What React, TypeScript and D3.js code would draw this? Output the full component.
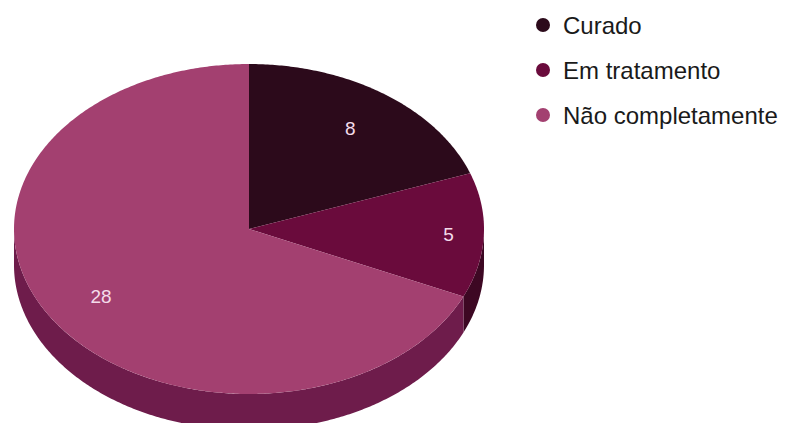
import React from "react";
import * as d3 from "d3";

const categories = ["Curado", "Em tratamento", "Não completamente"];
const values = [8, 5, 28];
const topColors = ["#2c0a1b", "#6a0b3c", "#a34070"];
const sideColors = ["#1c0611", "#3d0823", "#6e1c4b"];
const labelRadius = [0.75, 0.85, 0.75];

const W = 794;
const H = 423;
const cx = 249;
const cy = 229;
const rx = 235;
const ry = 165;
const depth = 36;

function pt(a: number, dy = 0): [number, number] {
  return [cx + rx * Math.sin(a), cy - ry * Math.cos(a) + dy];
}

function arcPoints(a0: number, a1: number, dy = 0): [number, number][] {
  const n = Math.max(2, Math.ceil(Math.abs(a1 - a0) / 0.01));
  const pts: [number, number][] = [];
  for (let i = 0; i <= n; i++) {
    const a = a0 + ((a1 - a0) * i) / n;
    pts.push(pt(a, dy));
  }
  return pts;
}

const line = d3.line<[number, number]>().x((d) => d[0]).y((d) => d[1]);

export default function App() {
  const pie = d3
    .pie<number>()
    .sort(null)
    .startAngle(0)
    .endAngle(2 * Math.PI)
    .value((d) => d);
  const arcs = pie(values);

  const sides = arcs.map((a, i) => {
    const s = Math.max(a.startAngle, Math.PI / 2);
    const e = Math.min(a.endAngle, (3 * Math.PI) / 2);
    if (e <= s) return null;
    const pts = [...arcPoints(s, e), ...arcPoints(e, s, depth)];
    return <path key={"s" + i} d={(line(pts) || "") + "Z"} fill={sideColors[i]} />;
  });

  const tops = arcs.map((a, i) => {
    const pts: [number, number][] = [[cx, cy], ...arcPoints(a.startAngle, a.endAngle)];
    return <path key={"t" + i} d={(line(pts) || "") + "Z"} fill={topColors[i]} />;
  });

  const labels = arcs.map((a, i) => {
    const m = (a.startAngle + a.endAngle) / 2;
    const k = labelRadius[i];
    const x = cx + k * rx * Math.sin(m);
    const y = cy - k * ry * Math.cos(m);
    return (
      <text
        key={"l" + i}
        x={x}
        y={y}
        dy="0.36em"
        textAnchor="middle"
        fontSize={19}
        fill="#f4dcea"
        fontFamily="'Liberation Sans', Arial, sans-serif"
      >
        {values[i]}
      </text>
    );
  });

  const legendY = d3.scalePoint<string>().domain(categories).range([25, 115]);

  return (
    <svg
      width={W}
      height={H}
      style={{ position: "absolute", left: 0, top: 0, background: "#ffffff" }}
    >
      <rect x={0} y={0} width={W} height={H} fill="#ffffff" />
      {sides}
      {tops}
      {labels}
      {categories.map((c, i) => (
        <g key={"lg" + i} transform={`translate(0,${legendY(c)})`}>
          <circle cx={543} cy={0} r={7} fill={topColors[i]} />
          <text
            x={563}
            y={0}
            dy="0.36em"
            fontSize={24}
            fill="#1a1a1a"
            fontFamily="'Liberation Sans', Arial, sans-serif"
          >
            {c}
          </text>
        </g>
      ))}
    </svg>
  );
}
